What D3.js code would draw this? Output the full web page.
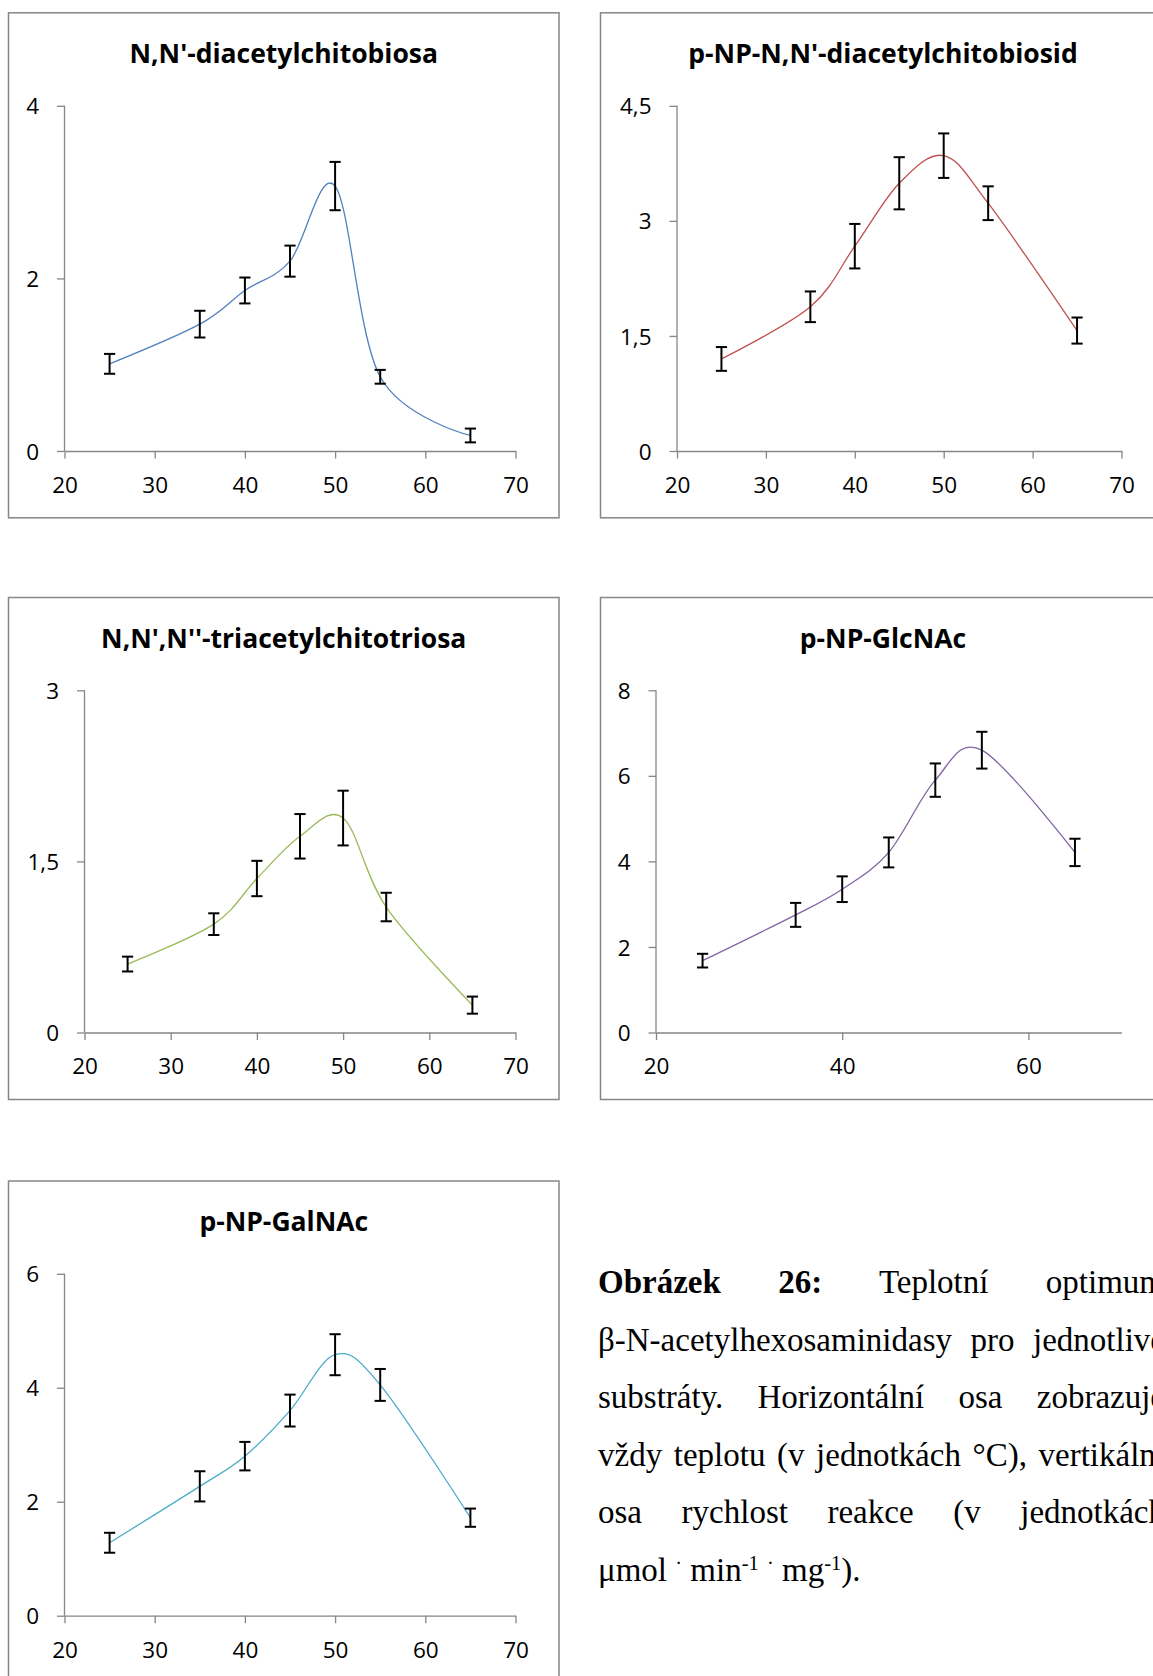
<!DOCTYPE html>
<html>
<head>
<meta charset="utf-8">
<script src="https://cdn.jsdelivr.net/npm/d3@7"></script>
<style>
body { margin:0; background:#fff; width:1153px; height:1676px; overflow:hidden; position:relative; }
svg { position:absolute; left:0; top:0; }
#caption { position:absolute; left:598px; top:1254px; width:567px;
  font-family:"Liberation Serif","Times New Roman",serif; font-size:33px; line-height:57.6px; color:#000; }
#caption div { text-align:justify; text-align-last:justify; white-space:nowrap; }
#caption div.last { text-align:left; text-align-last:left; }
#caption sup { font-size:0.62em; line-height:0; vertical-align:0.55em; }
</style>
</head>
<body>
<svg id="chart" width="1153" height="1676"></svg>
<div id="caption">
  <div><b>Obrázek 26:</b> Teplotní optimum</div>
  <div>β-N-acetylhexosaminidasy pro jednotlivé</div>
  <div>substráty. Horizontální osa zobrazuje</div>
  <div>vždy teplotu (v jednotkách °C), vertikální</div>
  <div>osa rychlost reakce (v jednotkách</div>
  <div class="last">μmol <sup>·</sup> min<sup>-1</sup> <sup>·</sup> mg<sup>-1</sup>).</div>
</div>
<script>
// temperatures (°C) shared by every substrate
var temps = [25, 35, 40, 45, 50, 55, 65];

var titles = ["N,N'-diacetylchitobiosa", "p-NP-N,N'-diacetylchitobiosid",
  "N,N',N''-triacetylchitotriosa", "p-NP-GlcNAc", "p-NP-GalNAc"];

// reaction rate and its error for each substrate
var chitobiosa      = [1.01, 1.47, 1.86, 2.20, 3.07, 0.86, 0.18];
var chitobiosaErr   = [0.115, 0.155, 0.15, 0.18, 0.28, 0.08, 0.08];
var chitobiosid     = [1.20, 1.88, 2.67, 3.49, 3.85, 3.23, 1.57];
var chitobiosidErr  = [0.155, 0.20, 0.29, 0.34, 0.29, 0.22, 0.17];
var chitotriosa     = [0.60, 0.95, 1.35, 1.72, 1.88, 1.10, 0.24];
var chitotriosaErr  = [0.065, 0.095, 0.155, 0.195, 0.24, 0.125, 0.075];
var glcnac          = [1.68, 2.75, 3.35, 4.21, 5.90, 6.60, 4.21];
var glcnacErr       = [0.16, 0.28, 0.30, 0.35, 0.39, 0.43, 0.32];
var galnac          = [1.28, 2.27, 2.80, 3.60, 4.58, 4.05, 1.72];
var galnacErr       = [0.175, 0.265, 0.25, 0.28, 0.36, 0.28, 0.16];

var series = [chitobiosa, chitobiosid, chitotriosa, glcnac, galnac];
var errors = [chitobiosaErr, chitobiosidErr, chitotriosaErr, glcnacErr, galnacErr];

// axis settings
var yMax  = [4, 4.5, 3, 8, 6];
var yStep = [2, 1.5, 1.5, 2, 2];
var xMin = 20, xMax = 70;
var xStep = [10, 10, 10, 20, 10];

var colors = ["#4f81bd", "#c0504d", "#9bbb59", "#8064a2", "#4bacc6"];

// frame + plot area of each panel (pixels)
var boxes = [
  {x: 8.5,   y: 12.8,  w: 550.5, h: 505, l: 64.5,  r: 515.5,  t: 105.8, b: 451},
  {x: 600.5, y: 12.8,  w: 565,   h: 505, l: 677,   r: 1121.5, t: 105.8, b: 451},
  {x: 8.5,   y: 597.5, w: 550.5, h: 502, l: 84.5,  r: 515.5,  t: 690.3, b: 1032.5},
  {x: 600.5, y: 597.5, w: 565,   h: 502, l: 656,   r: 1121.5, t: 690.3, b: 1032.5},
  {x: 8.5,   y: 1181,  w: 550.5, h: 600, l: 64.5,  r: 515.5,  t: 1273.8, b: 1615.7}
];

var comma = d3.formatLocale({decimal: ",", thousands: " ", grouping: [3], currency: ["", ""]}).format("~g");
var axisColor = "#868686";
var fontFam = "'Open Sans', 'Noto Sans', sans-serif";

var svg = d3.select("#chart");

boxes.forEach(function(box, i) {
  var g = svg.append("g");

  g.append("rect")
    .attr("x", box.x).attr("y", box.y)
    .attr("width", box.w).attr("height", box.h)
    .attr("fill", "#fff")
    .attr("stroke", axisColor)
    .attr("stroke-width", 1.5);

  g.append("text")
    .attr("x", box.x + box.w / 2)
    .attr("y", box.y + 50)
    .attr("text-anchor", "middle")
    .style("font-family", fontFam)
    .style("font-weight", 700)
    .style("font-size", "26.5px")
    .text(titles[i]);

  var x = d3.scaleLinear().domain([xMin, xMax]).range([box.l, box.r]);
  var y = d3.scaleLinear().domain([0, yMax[i]]).range([box.b, box.t]);

  var xTicks = d3.range(xMin, xMax + 0.001, xStep[i]);
  var yTicks = d3.range(0, yMax[i] + 0.001, yStep[i]);

  // y axis
  var yAxis = g.append("g")
    .attr("transform", "translate(" + box.l + ",0)")
    .call(d3.axisLeft(y).tickValues(yTicks).tickSize(7.5).tickPadding(18).tickFormat(comma));
  // x axis
  var xAxis = g.append("g")
    .attr("transform", "translate(0," + box.b + ")")
    .call(d3.axisBottom(x).tickValues(xTicks)
      .tickSize(7.5).tickPadding(18.5).tickSizeOuter(0).tickFormat(comma));

  [yAxis, xAxis].forEach(function(ax) {
    ax.select(".domain").attr("stroke", axisColor).attr("stroke-width", 1.3);
    ax.selectAll(".tick line").attr("stroke", axisColor).attr("stroke-width", 1.3);
    ax.selectAll("text")
      .attr("fill", "#000")
      .style("font-family", fontFam)
      .style("font-size", "22.5px");
  });
  yAxis.select(".domain").attr("d", "M0," + box.b + "V" + box.t);
  yAxis.selectAll(".tick text").attr("dy", "0.36em");

  var pts = temps.map(function(t, j) { return {t: t, v: series[i][j], e: errors[i][j]}; });

  var line = d3.line()
    .x(function(d) { return x(d.t); })
    .y(function(d) { return y(d.v); })
    .curve(d3.curveCardinal.tension(0));

  g.append("path")
    .datum(pts)
    .attr("d", line)
    .attr("fill", "none")
    .attr("stroke", colors[i])
    .attr("stroke-width", 1.3);

  var bars = g.selectAll(".err").data(pts).enter().append("g").attr("class", "err");
  bars.append("line")
    .attr("x1", function(d) { return x(d.t); })
    .attr("x2", function(d) { return x(d.t); })
    .attr("y1", function(d) { return y(d.v - d.e); })
    .attr("y2", function(d) { return y(d.v + d.e); });
  bars.append("line")
    .attr("x1", function(d) { return x(d.t) - 5.6; })
    .attr("x2", function(d) { return x(d.t) + 5.6; })
    .attr("y1", function(d) { return y(d.v + d.e); })
    .attr("y2", function(d) { return y(d.v + d.e); });
  bars.append("line")
    .attr("x1", function(d) { return x(d.t) - 5.6; })
    .attr("x2", function(d) { return x(d.t) + 5.6; })
    .attr("y1", function(d) { return y(d.v - d.e); })
    .attr("y2", function(d) { return y(d.v - d.e); });
  bars.selectAll("line").attr("stroke", "#000").attr("stroke-width", 2);
});
</script>
</body>
</html>
